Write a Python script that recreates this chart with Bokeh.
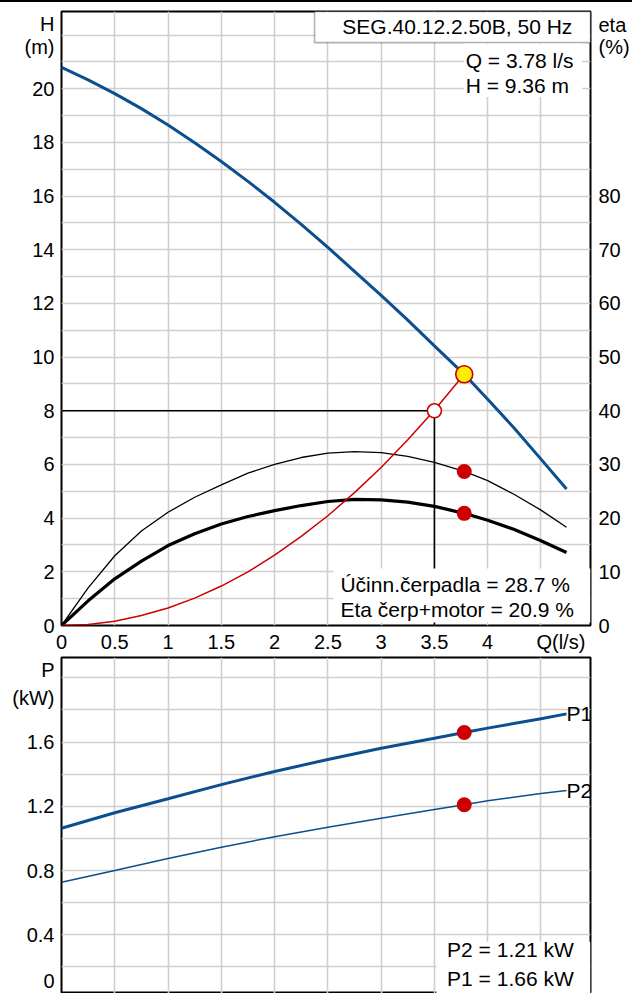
from bokeh.plotting import figure
from bokeh.models import Range1d, LinearAxis, FixedTicker, BoxAnnotation, Label
from bokeh.layouts import column
from bokeh.embed import file_html
from bokeh.resources import INLINE

# ---------------- data ----------------
Q_H = [0, 0.25, 0.5, 0.75, 1.0, 1.25, 1.5, 1.75, 2.0, 2.25, 2.5, 2.75,
       3.0, 3.25, 3.5, 3.78, 4.0, 4.25, 4.5, 4.74]
H_pump = [20.80, 20.33, 19.82, 19.26, 18.65, 17.99, 17.29, 16.55, 15.77, 14.95, 14.09, 13.20,
          12.30, 11.38, 10.42, 9.36, 8.43, 7.35, 6.20, 5.09]

Q_eta = [0, 0.25, 0.5, 0.75, 1.0, 1.25, 1.5, 1.75, 2.0, 2.25, 2.5, 2.75,
         3.0, 3.25, 3.5, 3.78, 4.0, 4.25, 4.5, 4.74]
eta_pump = [0, 7.0, 13.0, 17.6, 21.1, 23.9, 26.2, 28.4, 30.0, 31.3, 32.1, 32.4,
            32.2, 31.5, 30.4, 28.7, 27.0, 24.4, 21.5, 18.3]
eta_total = [0, 4.6, 8.7, 12.0, 14.9, 17.1, 18.9, 20.3, 21.4, 22.35, 23.1, 23.5,
             23.4, 23.0, 22.2, 20.9, 19.6, 17.9, 15.8, 13.6]

Q_sys = [0, 0.25, 0.5, 0.75, 1.0, 1.25, 1.5, 1.75, 2.0, 2.25, 2.5, 2.75, 3.0, 3.25, 3.5, 3.78]
H_sys = [0, 0.04, 0.16, 0.37, 0.65, 1.02, 1.47, 2.0, 2.62, 3.32, 4.09, 4.95, 5.89, 6.92, 8.02, 9.36]

Q_P = [0, 0.5, 1.0, 1.5, 2.0, 2.5, 3.0, 3.5, 3.78, 4.0, 4.5, 4.74]
P1 = [1.063, 1.160, 1.247, 1.335, 1.417, 1.492, 1.562, 1.624, 1.66, 1.687, 1.745, 1.776]
P2 = [0.727, 0.800, 0.875, 0.945, 1.010, 1.070, 1.125, 1.180, 1.21, 1.235, 1.280, 1.298]

Q_duty, H_duty = 3.78, 9.36
eta_pump_duty, eta_total_duty = 28.7, 20.9
P1_duty, P2_duty = 1.66, 1.21
Q_req, H_req = 3.5, 8.0

title_text = "SEG.40.12.2.50B, 50 Hz"
x_ticks = [0, 0.5, 1, 1.5, 2, 2.5, 3, 3.5, 4]
h_ticks = [0, 2, 4, 6, 8, 10, 12, 14, 16, 18, 20]
eta_ticks = [0, 10, 20, 30, 40, 50, 60, 70, 80]
p_ticks = [0.4, 0.8, 1.2, 1.6]

# ---------------- styling / layout ----------------
FONT = "Liberation Sans"
FS_TICK = "20px"
FS_TXT = "21px"
BLUE = "#0c4f8e"
RED = "#cc0000"
GRID = "#cfcfcf"
Q_MAX = 4.965
H_MAX = 22.88
ETA_PER_M = 5.0
P_MIN, P_MAX = 0.034, 2.127


def style_axis(ax, standoff):
    ax.axis_line_color = None
    ax.major_tick_line_color = None
    ax.minor_tick_line_color = None
    ax.major_tick_out = 0
    ax.major_tick_in = 0
    ax.minor_tick_out = 0
    ax.major_label_text_font = FONT
    ax.major_label_text_font_size = FS_TICK
    ax.major_label_text_color = "black"
    ax.major_label_standoff = standoff


def txt(p, x, y, text, align="left", y_range_name="default"):
    p.add_layout(Label(x=x, y=y, text=text, text_font=FONT, text_font_size=FS_TXT,
                       text_align=align, text_baseline="middle", text_color="black",
                       y_range_name=y_range_name))


# ================= top chart =================
top = figure(width=632, height=653, x_range=Range1d(0, Q_MAX), y_range=Range1d(0, H_MAX),
             output_backend="svg", toolbar_location=None,
             min_border_left=61, min_border_right=42, min_border_top=9, min_border_bottom=28)
top.outline_line_color = "black"
top.outline_line_width = 2
top.extra_y_ranges = {"eta": Range1d(0, H_MAX * ETA_PER_M)}

xa = top.xaxis[0]
xa.ticker = FixedTicker(ticks=x_ticks + [4.687])
xa.major_label_overrides = {4.687: "Q(l/s)"}
style_axis(xa, 5)

ya = top.yaxis[0]
ya.ticker = FixedTicker(ticks=h_ticks + [21.56, 22.40])
ya.major_label_overrides = {21.56: "(m)", 22.40: "H"}
style_axis(ya, 7)

ra = LinearAxis(y_range_name="eta")
ra.ticker = FixedTicker(ticks=eta_ticks + [107.8, 111.8])
ra.major_label_overrides = {107.8: "(%)", 111.8: "eta"}
style_axis(ra, 8)
top.add_layout(ra, "right")

top.xgrid.ticker = FixedTicker(ticks=[0.5 * i for i in range(0, 10)])
top.ygrid.ticker = FixedTicker(ticks=list(range(0, 23)))
for g in (top.xgrid[0], top.ygrid[0]):
    g.grid_line_color = GRID
    g.grid_line_width = 1.6

# required duty lines
top.line([0, Q_req], [H_req, H_req], line_color="black", line_width=1.6)
top.line([Q_req, Q_req], [H_req, 0], line_color="black", line_width=1.6)

# efficiency curves
top.line(Q_eta, eta_pump, y_range_name="eta", line_color="black", line_width=1.3)
top.line(Q_eta, eta_total, y_range_name="eta", line_color="black", line_width=3.2)

# system curve
top.line(Q_sys, H_sys, line_color=RED, line_width=1.5)

# pump curve
top.line(Q_H, H_pump, line_color=BLUE, line_width=3)

# markers
top.scatter([Q_req], [H_req], size=14, fill_color="white", line_color=RED, line_width=1.6)
top.scatter([Q_duty, Q_duty], [eta_pump_duty, eta_total_duty], y_range_name="eta",
            size=15, fill_color=RED, line_color=None)
top.scatter([Q_duty], [H_duty], size=17, fill_color="#ffee00", line_color=RED, line_width=1.6)

# title box
top.add_layout(BoxAnnotation(left=2.375, right=Q_MAX, bottom=21.72, top=H_MAX,
                             fill_color="white", fill_alpha=1.0,
                             line_color="black", line_width=1.6))
txt(top, 3.715, 22.31, title_text, align="center")

# duty point values
top.add_layout(BoxAnnotation(left=3.778, right=4.887, bottom=19.69, top=21.69,
                             fill_color="white", fill_alpha=1.0, line_color=None))
txt(top, 3.793, 21.06, f"Q = {Q_duty:.2f} l/s")
txt(top, 3.793, 20.13, f"H = {H_duty:.2f} m")

# efficiency values
top.add_layout(BoxAnnotation(left=2.553, right=Q_MAX, bottom=0.115, top=2.12,
                             fill_color="white", fill_alpha=1.0, line_color=None))
txt(top, 2.618, 1.52, f"Účinn.čerpadla = {eta_pump_duty:.1f} %")
txt(top, 2.618, 0.59, f"Eta čerp+motor = {eta_total_duty:.1f} %")

# ================= bottom chart =================
bot = figure(width=632, height=338, x_range=top.x_range, y_range=Range1d(P_MIN, P_MAX),
             output_backend="svg", toolbar_location=None, x_axis_location=None,
             min_border_left=61, min_border_right=42, min_border_top=2, min_border_bottom=0)
bot.outline_line_color = "black"
bot.outline_line_width = 2

pa = bot.yaxis[0]
pa.ticker = FixedTicker(ticks=p_ticks + [0.112, 1.874, 2.047])
pa.major_label_overrides = {0.112: "0", 1.874: "(kW)", 2.047: "P"}
style_axis(pa, 7)

bot.xgrid.ticker = FixedTicker(ticks=[0.5 * i for i in range(0, 10)])
bot.ygrid.ticker = FixedTicker(ticks=[0.2 * i for i in range(0, 11)])
for g in (bot.xgrid[0], bot.ygrid[0]):
    g.grid_line_color = GRID
    g.grid_line_width = 1.6

bot.line(Q_P, P1, line_color=BLUE, line_width=3)
bot.line(Q_P, P2, line_color=BLUE, line_width=1.5)
bot.scatter([Q_duty, Q_duty], [P1_duty, P2_duty], size=15, fill_color=RED, line_color=None)

txt(bot, Q_P[-1], P1[-1], "P1")
txt(bot, Q_P[-1], P2[-1], "P2")

bot.add_layout(BoxAnnotation(left=3.518, right=Q_MAX, bottom=P_MIN, top=0.357,
                             fill_color="white", fill_alpha=1.0, line_color=None))
txt(bot, 3.619, 0.305, f"P2 = {P2_duty:.2f} kW")
txt(bot, 3.619, 0.125, f"P1 = {P1_duty:.2f} kW")

layout = column(top, bot, spacing=0, styles={"border-top": "2px solid black"})
open("out.html", "w").write(file_html(layout, INLINE))
